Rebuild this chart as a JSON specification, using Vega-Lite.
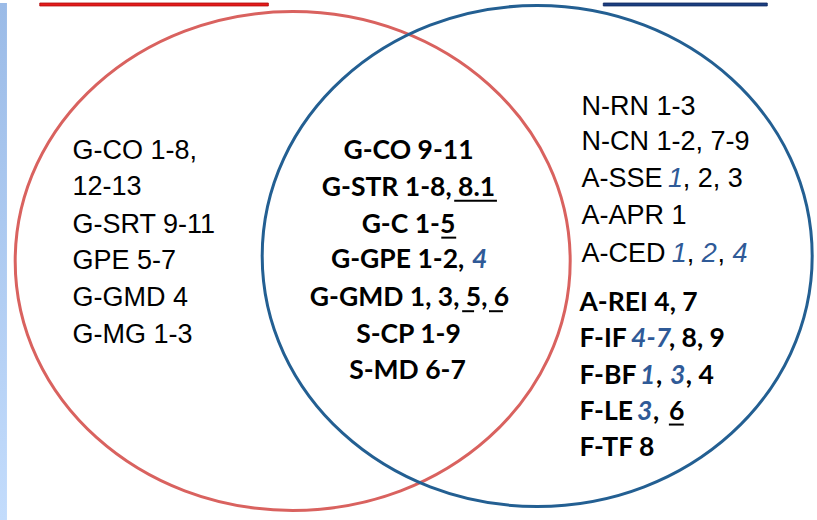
{
  "$schema": "https://vega.github.io/schema/vega-lite/v6.json",
  "width": 817,
  "height": 520,
  "autosize": {"type": "fit", "contains": "padding"},
  "padding": 0,
  "background": "white",
  "config": {"view": {"stroke": null}},
  "datasets": {
    "strip": [{"x": 0, "x2": 7, "y": 0, "y2": 520}],
    "bars": [
      {"set": "Geometry", "x": 40, "x2": 270, "y": 0, "y2": 3},
      {"set": "Algebra", "x": 607, "x2": 772, "y": 0, "y2": 3}
    ],
    "sets": [
      {"set": "Geometry", "x": 294.5, "y": 259.5},
      {"set": "Algebra", "x": 540.5, "y": 254.5}
    ],
    "labels": [
      {"text": "G-CO 1-8,", "x": 73, "y": 157, "weight": "normal", "tone": "standard", "anchor": "start"},
      {"text": "12-13", "x": 73, "y": 193, "weight": "normal", "tone": "standard", "anchor": "start"},
      {"text": "G-SRT 9-11", "x": 73, "y": 231, "weight": "normal", "tone": "standard", "anchor": "start"},
      {"text": "GPE 5-7", "x": 73, "y": 268, "weight": "normal", "tone": "standard", "anchor": "start"},
      {"text": "G-GMD 4", "x": 73, "y": 305, "weight": "normal", "tone": "standard", "anchor": "start"},
      {"text": "G-MG 1-3", "x": 73, "y": 342, "weight": "normal", "tone": "standard", "anchor": "start"},
      {"text": "N-RN 1-3", "x": 585, "y": 113, "weight": "normal", "tone": "standard", "anchor": "start"},
      {"text": "N-CN 1-2, 7-9", "x": 585, "y": 148, "weight": "normal", "tone": "standard", "anchor": "start"},
      {"text": "A-SSE", "x": 585, "y": 185, "weight": "normal", "tone": "standard", "anchor": "start"},
      {"text": "1", "x": 672, "y": 185, "weight": "normal", "tone": "highlight", "anchor": "start"},
      {"text": ", 2, 3", "x": 687, "y": 185, "weight": "normal", "tone": "standard", "anchor": "start"},
      {"text": "A-APR 1", "x": 585, "y": 222, "weight": "normal", "tone": "standard", "anchor": "start"},
      {"text": "A-CED", "x": 585, "y": 260, "weight": "normal", "tone": "standard", "anchor": "start"},
      {"text": "1", "x": 676, "y": 260, "weight": "normal", "tone": "highlight", "anchor": "start"},
      {"text": ",", "x": 691, "y": 260, "weight": "normal", "tone": "standard", "anchor": "start"},
      {"text": "2", "x": 706, "y": 260, "weight": "normal", "tone": "highlight", "anchor": "start"},
      {"text": ",", "x": 722, "y": 260, "weight": "normal", "tone": "standard", "anchor": "start"},
      {"text": "4", "x": 737, "y": 260, "weight": "normal", "tone": "highlight", "anchor": "start"},
      {"text": "G-CO 9-11", "x": 411, "y": 157, "weight": "bold", "tone": "standard", "anchor": "middle"},
      {"text": "G-STR 1-8, 8.1", "x": 411, "y": 194, "weight": "bold", "tone": "standard", "anchor": "middle"},
      {"text": "G-C 1-5", "x": 411, "y": 231, "weight": "bold", "tone": "standard", "anchor": "middle"},
      {"text": "G-GPE 1-2,", "x": 333, "y": 267, "weight": "bold", "tone": "standard", "anchor": "start"},
      {"text": "4", "x": 475, "y": 267, "weight": "bold", "tone": "highlight", "anchor": "start"},
      {"text": "G-GMD 1, 3, 5, 6", "x": 412, "y": 305, "weight": "bold", "tone": "standard", "anchor": "middle"},
      {"text": "S-CP 1-9", "x": 411, "y": 342, "weight": "bold", "tone": "standard", "anchor": "middle"},
      {"text": "S-MD 6-7", "x": 410, "y": 378, "weight": "bold", "tone": "standard", "anchor": "middle"},
      {"text": "A-REI 4, 7", "x": 583, "y": 310, "weight": "bold", "tone": "standard", "anchor": "start"},
      {"text": "F-IF", "x": 583, "y": 346, "weight": "bold", "tone": "standard", "anchor": "start"},
      {"text": "4-7", "x": 635, "y": 346, "weight": "bold", "tone": "highlight", "anchor": "start"},
      {"text": ", 8, 9", "x": 673, "y": 346, "weight": "bold", "tone": "standard", "anchor": "start"},
      {"text": "F-BF", "x": 583, "y": 383, "weight": "bold", "tone": "standard", "anchor": "start"},
      {"text": "1", "x": 644, "y": 383, "weight": "bold", "tone": "highlight", "anchor": "start"},
      {"text": ",", "x": 660, "y": 383, "weight": "bold", "tone": "standard", "anchor": "start"},
      {"text": "3", "x": 674, "y": 383, "weight": "bold", "tone": "highlight", "anchor": "start"},
      {"text": ", 4", "x": 690, "y": 383, "weight": "bold", "tone": "standard", "anchor": "start"},
      {"text": "F-LE", "x": 583, "y": 419, "weight": "bold", "tone": "standard", "anchor": "start"},
      {"text": "3", "x": 641, "y": 419, "weight": "bold", "tone": "highlight", "anchor": "start"},
      {"text": ",", "x": 657, "y": 419, "weight": "bold", "tone": "standard", "anchor": "start"},
      {"text": "6", "x": 673, "y": 419, "weight": "bold", "tone": "standard", "anchor": "start"},
      {"text": "F-TF 8", "x": 583, "y": 456, "weight": "bold", "tone": "standard", "anchor": "start"}
    ],
    "underlines": [
      {"x": 457, "x2": 500, "y": 199},
      {"x": 444, "x2": 459, "y": 236},
      {"x": 465, "x2": 477, "y": 310},
      {"x": 492, "x2": 506, "y": 310},
      {"x": 673, "x2": 688, "y": 424}
    ]
  },
  "encoding": {
    "x": {"field": "x", "type": "quantitative", "scale": {"domain": [0, 817], "nice": false, "zero": false}, "axis": null},
    "y": {"field": "y", "type": "quantitative", "scale": {"domain": [0, 520], "nice": false, "zero": false, "reverse": true}, "axis": null}
  },
  "layer": [
    {
      "data": {"name": "strip"},
      "mark": {"type": "rect", "fill": {"gradient": "linear", "x1": 0, "y1": 0, "x2": 0, "y2": 1, "stops": [{"offset": 0, "color": "#9bbbe7"}, {"offset": 1, "color": "#c3dcfc"}]}},
      "encoding": {"x2": {"field": "x2"}, "y2": {"field": "y2"}}
    },
    {
      "data": {"name": "bars"},
      "mark": {"type": "rect", "strokeWidth": 0.8},
      "encoding": {
        "x2": {"field": "x2"},
        "y2": {"field": "y2"},
        "fill": {"field": "set", "type": "nominal", "scale": {"domain": ["Geometry", "Algebra"], "range": ["#e31b1b", "#1c3f80"]}, "legend": null},
        "stroke": {"field": "set", "type": "nominal", "scale": {"domain": ["Geometry", "Algebra"], "range": ["#b00d0d", "#0f2a60"]}, "legend": null}
      }
    },
    {
      "data": {"name": "sets"},
      "mark": {"type": "point", "filled": false, "strokeWidth": 3, "opacity": 1},
      "encoding": {
        "shape": {"field": "set", "type": "nominal", "scale": {"domain": ["Geometry", "Algebra"], "range": [
          "M 1 0 C 1 0.4965 0.5523 0.899 0 0.899 C -0.5523 0.899 -1 0.4965 -1 0 C -1 -0.4965 -0.5523 -0.899 0 -0.899 C 0.5523 -0.899 1 -0.4965 1 0 Z",
          "M 1 0 C 1 0.5031 0.5523 0.911 0 0.911 C -0.5523 0.911 -1 0.5031 -1 0 C -1 -0.5031 -0.5523 -0.911 0 -0.911 C 0.5523 -0.911 1 -0.5031 1 0 Z"
        ]}, "legend": null},
        "size": {"field": "set", "type": "ordinal", "scale": {"domain": ["Geometry", "Algebra"], "range": [308025, 302500]}, "legend": null},
        "color": {"field": "set", "type": "nominal", "scale": {"domain": ["Geometry", "Algebra"], "range": ["#d9625f", "#235f92"]}, "legend": null}
      }
    },
    {
      "data": {"name": "labels"},
      "transform": [{"filter": "datum.weight === 'normal' && datum.tone === 'standard'"}],
      "mark": {"type": "text", "font": "Liberation Sans", "fontSize": 27, "align": "left", "baseline": "alphabetic", "color": "#000000"},
      "encoding": {"text": {"field": "text"}}
    },
    {
      "data": {"name": "labels"},
      "transform": [{"filter": "datum.weight === 'normal' && datum.tone === 'highlight'"}],
      "mark": {"type": "text", "font": "Liberation Sans", "fontSize": 27, "fontStyle": "italic", "align": "left", "baseline": "alphabetic", "color": "#2f5a97"},
      "encoding": {"text": {"field": "text"}}
    },
    {
      "data": {"name": "labels"},
      "transform": [{"filter": "datum.weight === 'bold' && datum.tone === 'standard' && datum.anchor === 'middle'"}],
      "mark": {"type": "text", "font": "Lato", "fontSize": 26.5, "fontWeight": "bold", "align": "center", "baseline": "alphabetic", "color": "#000000"},
      "encoding": {"text": {"field": "text"}}
    },
    {
      "data": {"name": "labels"},
      "transform": [{"filter": "datum.weight === 'bold' && datum.tone === 'standard' && datum.anchor === 'start'"}],
      "mark": {"type": "text", "font": "Lato", "fontSize": 26.5, "fontWeight": "bold", "align": "left", "baseline": "alphabetic", "color": "#000000"},
      "encoding": {"text": {"field": "text"}}
    },
    {
      "data": {"name": "labels"},
      "transform": [{"filter": "datum.weight === 'bold' && datum.tone === 'highlight'"}],
      "mark": {"type": "text", "font": "Lato", "fontSize": 26.5, "fontWeight": "bold", "fontStyle": "italic", "align": "left", "baseline": "alphabetic", "color": "#2f5a97"},
      "encoding": {"text": {"field": "text"}}
    },
    {
      "data": {"name": "underlines"},
      "mark": {"type": "rule", "strokeWidth": 2, "color": "#000000"},
      "encoding": {"x2": {"field": "x2"}}
    }
  ]
}
